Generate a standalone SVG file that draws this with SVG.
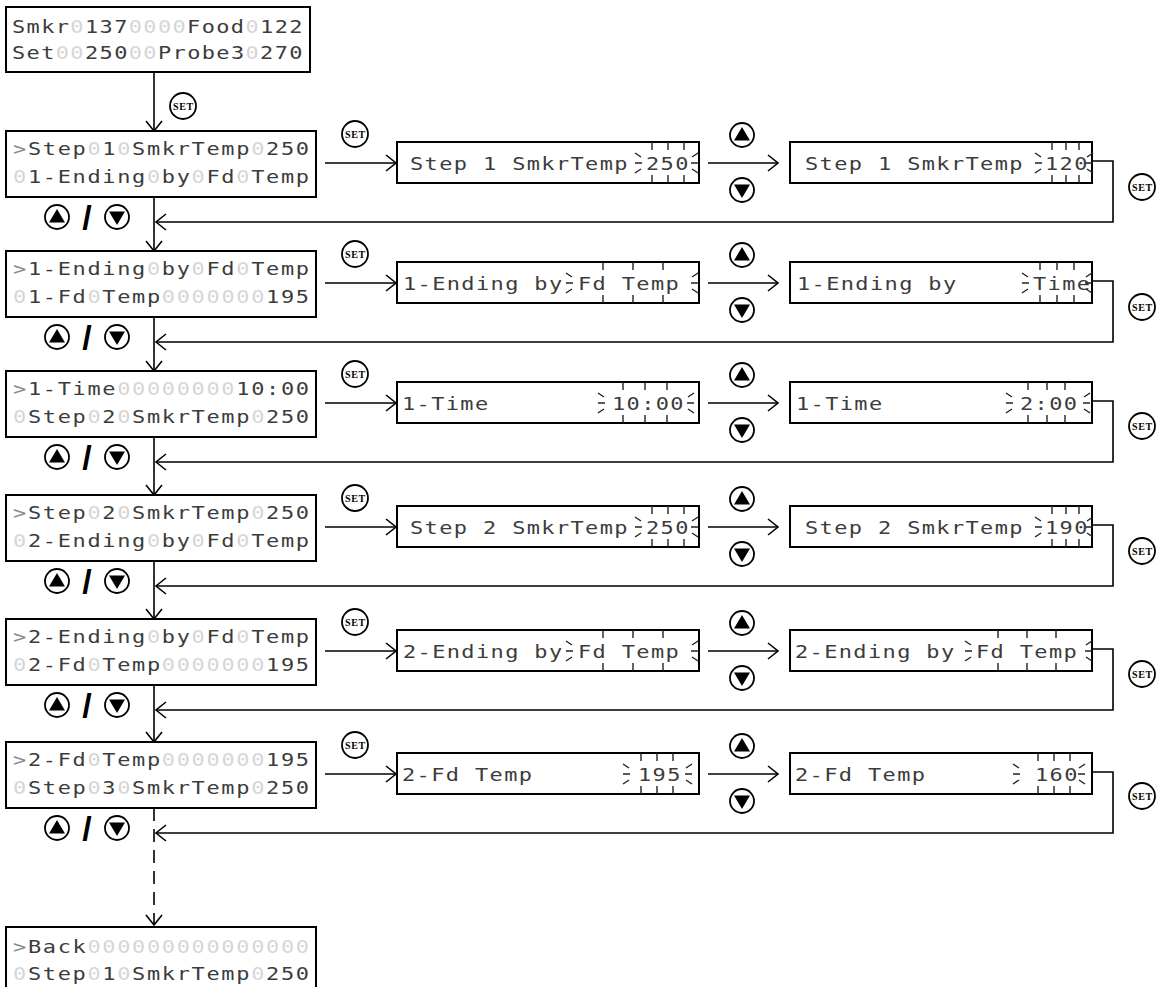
<svg xmlns="http://www.w3.org/2000/svg" xmlns:xlink="http://www.w3.org/1999/xlink" width="1156" height="987" viewBox="0 0 1156 987">
<style>
.box{fill:#fff;stroke:#000;stroke-width:2}
.ln{fill:none;stroke:#000;stroke-width:1.6}
.dash{stroke-dasharray:13 8}
.lcd{font-family:"DejaVu Sans Mono","Liberation Mono",monospace;font-size:18px;letter-spacing:1.37px;fill:#3c3c3c}
.lcd2{font-family:"DejaVu Sans Mono","Liberation Mono",monospace;font-size:18px;letter-spacing:1.13px;fill:#3c3c3c}
.f{fill:#d6d6d6}
.g{fill:#8a8a8a}
.btn{fill:#fff;stroke:#000;stroke-width:1.8}
.tri{fill:#000}
.set{font-family:"Liberation Serif","DejaVu Serif",serif;font-size:10px;font-weight:bold;letter-spacing:0.7px;fill:#000}
.sl{font-family:"Liberation Sans","DejaVu Sans",sans-serif;font-size:34px;font-weight:bold;fill:#000}
.bl{fill:none;stroke:#222;stroke-width:1.4}
</style>
<defs>
<marker id="ah" markerUnits="userSpaceOnUse" viewBox="-12 -9 14 18" markerWidth="14" markerHeight="18" refX="0" refY="0" orient="auto">
<path d="M-10,-8 L0,0 L-10,8" fill="none" stroke="#000" stroke-width="1.6"/>
</marker>
<g id="up"><circle class="btn" r="12"/><polygon class="tri" points="0,-8 -8,5.5 8,5.5"/></g>
<g id="dn"><circle class="btn" r="12"/><polygon class="tri" points="0,8 -8,-5.5 8,-5.5"/></g>
<path id="rl" class="bl" d="M-8,-10 L-2,-6 M-8,0 L-1,0 M-8,10 L-2,6"/>
<path id="rr" class="bl" d="M8,-10 L2,-6 M8,0 L1,0 M8,10 L2,6"/>
<path id="tk" class="bl" d="M0,-21 V-13 M0,12 V20"/>
</defs>

<g id="connectors">
<path class="ln" d="M154,72 V131" marker-end="url(#ah)"/>
<path class="ln" d="M154,197 V251" marker-end="url(#ah)"/>
<path class="ln" d="M154,317 V371" marker-end="url(#ah)"/>
<path class="ln" d="M154,437 V495" marker-end="url(#ah)"/>
<path class="ln" d="M154,561 V619" marker-end="url(#ah)"/>
<path class="ln" d="M154,685 V742" marker-end="url(#ah)"/>
<path class="ln dash" d="M154,808 V925" marker-end="url(#ah)"/>

<path class="ln" d="M325,163 H396" marker-end="url(#ah)"/>
<path class="ln" d="M708,163 H778" marker-end="url(#ah)"/>
<path class="ln" d="M1092,161 H1113 V222 H156" marker-end="url(#ah)"/>

<path class="ln" d="M325,283 H396" marker-end="url(#ah)"/>
<path class="ln" d="M708,283 H778" marker-end="url(#ah)"/>
<path class="ln" d="M1092,281 H1113 V342 H156" marker-end="url(#ah)"/>

<path class="ln" d="M325,403 H396" marker-end="url(#ah)"/>
<path class="ln" d="M708,403 H778" marker-end="url(#ah)"/>
<path class="ln" d="M1092,401 H1113 V462 H156" marker-end="url(#ah)"/>

<path class="ln" d="M325,527 H396" marker-end="url(#ah)"/>
<path class="ln" d="M708,527 H778" marker-end="url(#ah)"/>
<path class="ln" d="M1092,525 H1113 V586 H156" marker-end="url(#ah)"/>

<path class="ln" d="M325,651 H396" marker-end="url(#ah)"/>
<path class="ln" d="M708,651 H778" marker-end="url(#ah)"/>
<path class="ln" d="M1092,649 H1113 V710 H156" marker-end="url(#ah)"/>

<path class="ln" d="M325,774 H396" marker-end="url(#ah)"/>
<path class="ln" d="M708,774 H778" marker-end="url(#ah)"/>
<path class="ln" d="M1092,772 H1113 V833 H156" marker-end="url(#ah)"/>
</g>

<g id="buttons">
<circle class="btn" cx="183" cy="106" r="13"/><text class="set" x="183.5" y="109.5" text-anchor="middle">SET</text>
<circle class="btn" cx="355" cy="134" r="13"/><text class="set" x="355.5" y="137.5" text-anchor="middle">SET</text>
<circle class="btn" cx="355" cy="254" r="13"/><text class="set" x="355.5" y="257.5" text-anchor="middle">SET</text>
<circle class="btn" cx="355" cy="374" r="13"/><text class="set" x="355.5" y="377.5" text-anchor="middle">SET</text>
<circle class="btn" cx="355" cy="498" r="13"/><text class="set" x="355.5" y="501.5" text-anchor="middle">SET</text>
<circle class="btn" cx="355" cy="622" r="13"/><text class="set" x="355.5" y="625.5" text-anchor="middle">SET</text>
<circle class="btn" cx="355" cy="745" r="13"/><text class="set" x="355.5" y="748.5" text-anchor="middle">SET</text>

<circle class="btn" cx="1142" cy="187" r="13"/><text class="set" x="1142.5" y="190.5" text-anchor="middle">SET</text>
<circle class="btn" cx="1142" cy="307" r="13"/><text class="set" x="1142.5" y="310.5" text-anchor="middle">SET</text>
<circle class="btn" cx="1142" cy="426" r="13"/><text class="set" x="1142.5" y="429.5" text-anchor="middle">SET</text>
<circle class="btn" cx="1142" cy="551" r="13"/><text class="set" x="1142.5" y="554.5" text-anchor="middle">SET</text>
<circle class="btn" cx="1142" cy="674" r="13"/><text class="set" x="1142.5" y="677.5" text-anchor="middle">SET</text>
<circle class="btn" cx="1142" cy="796" r="13"/><text class="set" x="1142.5" y="799.5" text-anchor="middle">SET</text>

<use href="#up" x="742" y="135"/><use href="#dn" x="742" y="190"/>
<use href="#up" x="742" y="255"/><use href="#dn" x="742" y="310"/>
<use href="#up" x="742" y="375"/><use href="#dn" x="742" y="430"/>
<use href="#up" x="742" y="499"/><use href="#dn" x="742" y="554"/>
<use href="#up" x="742" y="623"/><use href="#dn" x="742" y="678"/>
<use href="#up" x="742" y="746"/><use href="#dn" x="742" y="801"/>

<use href="#up" x="57" y="217"/><text class="sl" x="87" y="229" text-anchor="middle">/</text><use href="#dn" x="117" y="217"/>
<use href="#up" x="57" y="337"/><text class="sl" x="87" y="349" text-anchor="middle">/</text><use href="#dn" x="117" y="337"/>
<use href="#up" x="57" y="457"/><text class="sl" x="87" y="469" text-anchor="middle">/</text><use href="#dn" x="117" y="457"/>
<use href="#up" x="57" y="581"/><text class="sl" x="87" y="593" text-anchor="middle">/</text><use href="#dn" x="117" y="581"/>
<use href="#up" x="57" y="705"/><text class="sl" x="87" y="717" text-anchor="middle">/</text><use href="#dn" x="117" y="705"/>
<use href="#up" x="57" y="828"/><text class="sl" x="87" y="840" text-anchor="middle">/</text><use href="#dn" x="117" y="828"/>
</g>

<g id="home">
<rect class="box" x="6" y="7" width="304" height="65"/>
<text class="lcd2" transform="translate(12,33) scale(1.22,1)">Smkr<tspan class="f">0</tspan>137<tspan class="f">0000</tspan>Food<tspan class="f">0</tspan>122</text>
<text class="lcd2" transform="translate(12,59) scale(1.22,1)">Set<tspan class="f">00</tspan>250<tspan class="f">00</tspan>Probe3<tspan class="f">0</tspan>270</text>
</g>

<g id="menu-step1">
<rect class="box" x="6" y="131" width="310" height="66"/>
<text class="lcd" transform="translate(13,155) scale(1.22,1)"><tspan class="g">&gt;</tspan>Step<tspan class="f">0</tspan>1<tspan class="f">0</tspan>SmkrTemp<tspan class="f">0</tspan>250</text>
<text class="lcd" transform="translate(13,183) scale(1.22,1)"><tspan class="f">0</tspan>1-Ending<tspan class="f">0</tspan>by<tspan class="f">0</tspan>Fd<tspan class="f">0</tspan>Temp</text>
</g>
<g id="menu-end1">
<rect class="box" x="6" y="251" width="310" height="66"/>
<text class="lcd" transform="translate(13,275) scale(1.22,1)"><tspan class="g">&gt;</tspan>1-Ending<tspan class="f">0</tspan>by<tspan class="f">0</tspan>Fd<tspan class="f">0</tspan>Temp</text>
<text class="lcd" transform="translate(13,303) scale(1.22,1)"><tspan class="f">0</tspan>1-Fd<tspan class="f">0</tspan>Temp<tspan class="f">0000000</tspan>195</text>
</g>
<g id="menu-time1">
<rect class="box" x="6" y="371" width="310" height="66"/>
<text class="lcd" transform="translate(13,395) scale(1.22,1)"><tspan class="g">&gt;</tspan>1-Time<tspan class="f">00000000</tspan>10:00</text>
<text class="lcd" transform="translate(13,423) scale(1.22,1)"><tspan class="f">0</tspan>Step<tspan class="f">0</tspan>2<tspan class="f">0</tspan>SmkrTemp<tspan class="f">0</tspan>250</text>
</g>
<g id="menu-step2">
<rect class="box" x="6" y="495" width="310" height="66"/>
<text class="lcd" transform="translate(13,519) scale(1.22,1)"><tspan class="g">&gt;</tspan>Step<tspan class="f">0</tspan>2<tspan class="f">0</tspan>SmkrTemp<tspan class="f">0</tspan>250</text>
<text class="lcd" transform="translate(13,547) scale(1.22,1)"><tspan class="f">0</tspan>2-Ending<tspan class="f">0</tspan>by<tspan class="f">0</tspan>Fd<tspan class="f">0</tspan>Temp</text>
</g>
<g id="menu-end2">
<rect class="box" x="6" y="619" width="310" height="66"/>
<text class="lcd" transform="translate(13,643) scale(1.22,1)"><tspan class="g">&gt;</tspan>2-Ending<tspan class="f">0</tspan>by<tspan class="f">0</tspan>Fd<tspan class="f">0</tspan>Temp</text>
<text class="lcd" transform="translate(13,671) scale(1.22,1)"><tspan class="f">0</tspan>2-Fd<tspan class="f">0</tspan>Temp<tspan class="f">0000000</tspan>195</text>
</g>
<g id="menu-fd2">
<rect class="box" x="6" y="742" width="310" height="66"/>
<text class="lcd" transform="translate(13,766) scale(1.22,1)"><tspan class="g">&gt;</tspan>2-Fd<tspan class="f">0</tspan>Temp<tspan class="f">0000000</tspan>195</text>
<text class="lcd" transform="translate(13,794) scale(1.22,1)"><tspan class="f">0</tspan>Step<tspan class="f">0</tspan>3<tspan class="f">0</tspan>SmkrTemp<tspan class="f">0</tspan>250</text>
</g>
<g id="menu-back">
<rect class="box" x="6" y="927" width="310" height="66"/>
<text class="lcd" transform="translate(13,953) scale(1.22,1)"><tspan class="g">&gt;</tspan>Back<tspan class="f">000000000000000</tspan></text>
<text class="lcd" transform="translate(13,980) scale(1.22,1)"><tspan class="f">0</tspan>Step<tspan class="f">0</tspan>1<tspan class="f">0</tspan>SmkrTemp<tspan class="f">0</tspan>250</text>
</g>

<g id="edit-step1">
<rect class="box" x="397" y="142" width="302" height="41"/>
<text class="lcd2" transform="translate(410,169.5) scale(1.22,1)">Step 1 SmkrTemp</text>
<text class="lcd2" transform="translate(646,169.5) scale(1.22,1)">250</text>
<use href="#rl" x="643" y="163"/><use href="#rr" x="690" y="163"/>
<use href="#tk" x="652" y="163"/><use href="#tk" x="668" y="163"/><use href="#tk" x="684" y="163"/>
</g>
<g id="edit-step1-new">
<rect class="box" x="790" y="142" width="302" height="41"/>
<text class="lcd2" transform="translate(805,169.5) scale(1.22,1)">Step 1 SmkrTemp</text>
<text class="lcd2" transform="translate(1045,169.5) scale(1.22,1)">120</text>
<use href="#rl" x="1043" y="163"/><use href="#rr" x="1085" y="163"/>
<use href="#tk" x="1052" y="163"/><use href="#tk" x="1066" y="163"/><use href="#tk" x="1079" y="163"/>
</g>

<g id="edit-end1">
<rect class="box" x="397" y="262" width="302" height="41"/>
<text class="lcd2" transform="translate(403,289.5) scale(1.22,1)">1-Ending by</text>
<text class="lcd2" transform="translate(578,289.5) scale(1.22,1)">Fd Temp</text>
<use href="#rl" x="574" y="283"/><use href="#rr" x="690" y="283"/>
<use href="#tk" x="603" y="283"/><use href="#tk" x="633" y="283"/><use href="#tk" x="663" y="283"/>
</g>
<g id="edit-end1-new">
<rect class="box" x="790" y="262" width="302" height="41"/>
<text class="lcd2" transform="translate(797,289.5) scale(1.22,1)">1-Ending by</text>
<text class="lcd2" transform="translate(1033,289.5) scale(1.22,1)">Time</text>
<use href="#rl" x="1030" y="283"/><use href="#rr" x="1084" y="283"/>
<use href="#tk" x="1040" y="283"/><use href="#tk" x="1057" y="283"/><use href="#tk" x="1074" y="283"/>
</g>

<g id="edit-time1">
<rect class="box" x="397" y="382" width="302" height="41"/>
<text class="lcd2" transform="translate(402,409.5) scale(1.22,1)">1-Time</text>
<text class="lcd2" transform="translate(612,409.5) scale(1.22,1)">10:00</text>
<use href="#rl" x="606" y="403"/><use href="#rr" x="686" y="403"/>
<use href="#tk" x="623" y="403"/><use href="#tk" x="645" y="403"/><use href="#tk" x="667" y="403"/>
</g>
<g id="edit-time1-new">
<rect class="box" x="790" y="382" width="302" height="41"/>
<text class="lcd2" transform="translate(796,409.5) scale(1.22,1)">1-Time</text>
<text class="lcd2" transform="translate(1020,409.5) scale(1.22,1)">2:00</text>
<use href="#rl" x="1014" y="403"/><use href="#rr" x="1082" y="403"/>
<use href="#tk" x="1028" y="403"/><use href="#tk" x="1047" y="403"/><use href="#tk" x="1065" y="403"/>
</g>

<g id="edit-step2">
<rect class="box" x="397" y="506" width="302" height="41"/>
<text class="lcd2" transform="translate(410,533.5) scale(1.22,1)">Step 2 SmkrTemp</text>
<text class="lcd2" transform="translate(646,533.5) scale(1.22,1)">250</text>
<use href="#rl" x="643" y="527"/><use href="#rr" x="690" y="527"/>
<use href="#tk" x="652" y="527"/><use href="#tk" x="668" y="527"/><use href="#tk" x="684" y="527"/>
</g>
<g id="edit-step2-new">
<rect class="box" x="790" y="506" width="302" height="41"/>
<text class="lcd2" transform="translate(805,533.5) scale(1.22,1)">Step 2 SmkrTemp</text>
<text class="lcd2" transform="translate(1045,533.5) scale(1.22,1)">190</text>
<use href="#rl" x="1043" y="527"/><use href="#rr" x="1085" y="527"/>
<use href="#tk" x="1052" y="527"/><use href="#tk" x="1066" y="527"/><use href="#tk" x="1079" y="527"/>
</g>

<g id="edit-end2">
<rect class="box" x="397" y="630" width="302" height="41"/>
<text class="lcd2" transform="translate(403,657.5) scale(1.22,1)">2-Ending by</text>
<text class="lcd2" transform="translate(578,657.5) scale(1.22,1)">Fd Temp</text>
<use href="#rl" x="574" y="651"/><use href="#rr" x="690" y="651"/>
<use href="#tk" x="603" y="651"/><use href="#tk" x="633" y="651"/><use href="#tk" x="663" y="651"/>
</g>
<g id="edit-end2-new">
<rect class="box" x="790" y="630" width="302" height="41"/>
<text class="lcd2" transform="translate(795,657.5) scale(1.22,1)">2-Ending by</text>
<text class="lcd2" transform="translate(976,657.5) scale(1.22,1)">Fd Temp</text>
<use href="#rl" x="973" y="651"/><use href="#rr" x="1084" y="651"/>
<use href="#tk" x="998" y="651"/><use href="#tk" x="1027" y="651"/><use href="#tk" x="1056" y="651"/>
</g>

<g id="edit-fd2">
<rect class="box" x="397" y="753" width="302" height="41"/>
<text class="lcd2" transform="translate(402,780.5) scale(1.22,1)">2-Fd Temp</text>
<text class="lcd2" transform="translate(638,780.5) scale(1.22,1)">195</text>
<use href="#rl" x="631" y="774"/><use href="#rr" x="684" y="774"/>
<use href="#tk" x="641" y="774"/><use href="#tk" x="657" y="774"/><use href="#tk" x="673" y="774"/>
</g>
<g id="edit-fd2-new">
<rect class="box" x="790" y="753" width="302" height="41"/>
<text class="lcd2" transform="translate(795,780.5) scale(1.22,1)">2-Fd Temp</text>
<text class="lcd2" transform="translate(1035,780.5) scale(1.22,1)">160</text>
<use href="#rl" x="1021" y="774"/><use href="#rr" x="1077" y="774"/>
<use href="#tk" x="1038" y="774"/><use href="#tk" x="1054" y="774"/><use href="#tk" x="1070" y="774"/>
</g>
</svg>
